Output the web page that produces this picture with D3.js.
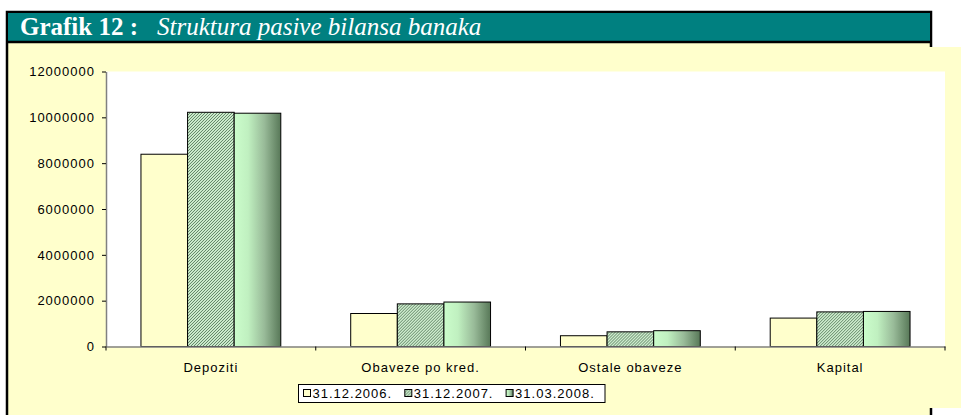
<!DOCTYPE html>
<html lang="bs">
<head>
<meta charset="utf-8">
<title>Grafik 12</title>
<script src="https://cdn.jsdelivr.net/npm/d3@7"></script>
<style>
    body { margin: 0; background: #fff; }
    .lbl { font-family: "Liberation Sans", Arial, sans-serif; font-size: 13px; letter-spacing: 1px; fill: #000; }
</style>
</head>
<body>
<script>
// data
const categories = ["Depoziti", "Obaveze po kred.", "Ostale obaveze", "Kapital"];
const series = ["31.12.2006.", "31.12.2007.", "31.03.2008."];
const values2006 = [8390000, 1440000, 470000, 1240000];
const values2007 = [10220000, 1860000, 640000, 1510000];
const values2008 = [10180000, 1940000, 690000, 1530000];
const yTicks = [0, 2000000, 4000000, 6000000, 8000000, 10000000, 12000000];

const width = 961, height = 415;
const svg = d3.select("body").append("svg")
    .attr("width", width)
    .attr("height", height);

const defs = svg.append("defs");
const hatch = defs.append("pattern")
    .attr("id", "hatch")
    .attr("patternUnits", "userSpaceOnUse")
    .attr("width", 3).attr("height", 3);
hatch.append("rect").attr("width", 3).attr("height", 3).attr("fill", "#cdeccd");
hatch.append("path")
    .attr("d", "M-1,1 L1,-1 M0,3 L3,0 M2,4 L4,2")
    .attr("stroke", "#56785a").attr("stroke-width", 0.9);

const grad = defs.append("linearGradient")
    .attr("id", "grad").attr("x1", 0).attr("x2", 1).attr("y1", 0).attr("y2", 0);
grad.append("stop").attr("offset", 0).attr("stop-color", "#cbfdcb");
grad.append("stop").attr("offset", 0.3).attr("stop-color", "#c0f0c0");
grad.append("stop").attr("offset", 0.65).attr("stop-color", "#98ba98");
grad.append("stop").attr("offset", 1).attr("stop-color", "#587858");

const fills = ["#ffffcc", "url(#hatch)", "url(#grad)"];

// frame + header
svg.append("rect")
    .attr("x", 7).attr("y", 12).attr("width", 924).attr("height", 430)
    .attr("fill", "#ffffcc").attr("stroke", "#000").attr("stroke-width", 2.5);
svg.append("rect")
    .attr("x", 8).attr("y", 13).attr("width", 922).attr("height", 28)
    .attr("fill", "#008080");
svg.append("line")
    .attr("x1", 7).attr("x2", 931).attr("y1", 42).attr("y2", 42)
    .attr("stroke", "#000").attr("stroke-width", 2.5);

const title = svg.append("text")
    .attr("x", 20).attr("y", 34.5)
    .attr("font-family", "'Liberation Serif', 'Times New Roman', serif")
    .attr("font-size", 25)
    .attr("fill", "#fff");
title.append("tspan").attr("font-weight", "bold").text("Grafik 12 :");
title.append("tspan").attr("x", 157).attr("font-style", "italic").text("Struktura pasive bilansa banaka");

// chart area
svg.append("rect")
    .attr("x", 9).attr("y", 47).attr("width", 952).attr("height", 361)
    .attr("fill", "#ffffcc");

const plot = { left: 106, right: 945, top: 71.5, bottom: 346.5 };
svg.append("rect")
    .attr("x", plot.left).attr("y", plot.top)
    .attr("width", plot.right - plot.left).attr("height", plot.bottom - plot.top)
    .attr("fill", "#fff");

const x = d3.scaleBand().domain(categories).range([plot.left, plot.right]);
const barW = x.bandwidth() / 4.5;
const xs = d3.scaleBand().domain(series).range([0, barW * 3]);
const y = d3.scaleLinear().domain([0, 12000000]).range([plot.bottom, plot.top]);

const rows = categories.map((c, i) => ({
    cat: c,
    vals: [values2006[i], values2007[i], values2008[i]]
}));

svg.append("g").selectAll("g")
    .data(rows)
    .join("g")
    .attr("transform", d => `translate(${x(d.cat) + barW * 0.75},0)`)
    .selectAll("rect")
    .data(d => d.vals.map((v, j) => ({ s: series[j], v: v, j: j })))
    .join("rect")
    .attr("x", d => xs(d.s))
    .attr("y", d => y(d.v))
    .attr("width", xs.bandwidth())
    .attr("height", d => y(0) - y(d.v))
    .attr("fill", d => fills[d.j])
    .attr("stroke", "#000")
    .attr("stroke-width", 1);

// y axis
const yAxis = svg.append("g")
    .attr("transform", `translate(${plot.left},0)`)
    .call(d3.axisLeft(y).tickValues(yTicks).tickFormat(d3.format("d")).tickSize(4).tickSizeOuter(0).tickPadding(7));
yAxis.select(".domain").attr("stroke", "#808080").attr("stroke-width", 1.5);
yAxis.selectAll(".tick line").attr("stroke", "#000");
yAxis.selectAll("text").attr("class", "lbl").attr("font-family", null).attr("font-size", null);

// x axis
const xAxis = svg.append("g")
    .attr("transform", `translate(0,${plot.bottom})`)
    .call(d3.axisBottom(x).tickSize(0).tickPadding(16));
xAxis.select(".domain").attr("stroke", "#808080").attr("stroke-width", 1.5);
xAxis.selectAll("text").attr("class", "lbl").attr("font-family", null).attr("font-size", null);
const bounds = categories.map(c => x(c)).concat([plot.right]);
xAxis.selectAll(".bound")
    .data(bounds)
    .join("line")
    .attr("class", "bound")
    .attr("x1", d => d).attr("x2", d => d)
    .attr("y1", 0).attr("y2", 4)
    .attr("stroke", "#000");

// legend
const legend = svg.append("g");
legend.append("rect")
    .attr("x", 298.5).attr("y", 384.5).attr("width", 306.5).attr("height", 18)
    .attr("fill", "#fff").attr("stroke", "#000");
const item = legend.selectAll(".item")
    .data(series)
    .join("g")
    .attr("class", "item")
    .attr("transform", (d, i) => `translate(${303.5 + i * 101.3},389.5)`);
item.append("rect")
    .attr("width", 7).attr("height", 7)
    .attr("fill", (d, i) => fills[i])
    .attr("stroke", "#000");
item.append("text")
    .attr("class", "lbl")
    .attr("x", 9).attr("y", 8.5)
    .text(d => d);
</script>
</body>
</html>
